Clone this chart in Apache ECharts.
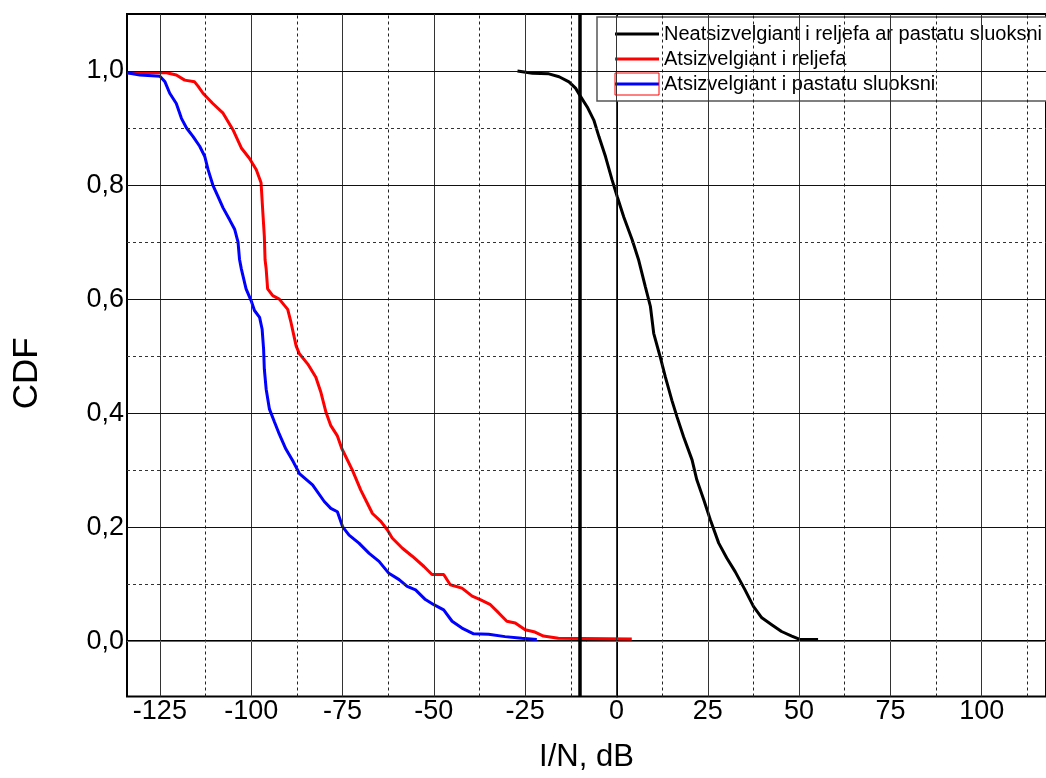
<!DOCTYPE html>
<html>
<head>
<meta charset="utf-8">
<script src="https://cdn.jsdelivr.net/npm/echarts@6/dist/echarts.min.js"></script>
<style>html,body{margin:0;padding:0;background:#fff}#c{width:1046px;height:778px}</style>
</head>
<body>
<div id="c"></div>
<script>
// ---- data ----
const seriesNames = ['Neatsizvelgiant i reljefa ar pastatu sluoksni', 'Atsizvelgiant i reljefa', 'Atsizvelgiant i pastatu sluoksni'];

const blackX = [-27.1, -23, -18.5, -15.7, -13, -11.2, -9.8, -8, -6.2, -4.8, -3, -1.2, 0.2, 2, 4.3, 6.1, 7.9, 9.3, 10.2, 12.0, 13.4, 15.2, 16.6, 18.4, 20.7, 22.0, 23.9, 25.7, 28, 30.2, 32.5, 35.2, 37.5, 39.8, 42.5, 45.2, 48, 50.2, 55.2];
const blackY = [1.0, 0.996, 0.995, 0.99, 0.981, 0.97, 0.955, 0.937, 0.914, 0.885, 0.85, 0.809, 0.78, 0.744, 0.704, 0.668, 0.622, 0.587, 0.54, 0.498, 0.463, 0.422, 0.393, 0.358, 0.318, 0.283, 0.248, 0.213, 0.172, 0.146, 0.122, 0.09, 0.061, 0.041, 0.029, 0.017, 0.009, 0.003, 0.003];

const redX = [-134, -123.2, -120.5, -118.2, -115.5, -114.5, -113.2, -110.5, -107.7, -105, -102.7, -100.5, -98.6, -97.3, -96.8, -96.4, -96.2, -95.9, -95.5, -94.1, -92.3, -90, -89.1, -87.7, -86.8, -84.5, -82.3, -80.9, -79.5, -78.2, -76.4, -75.2, -72.3, -70, -68.2, -66.8, -64.5, -62.7, -61.4, -58.6, -55.9, -52.7, -50.5, -47.3, -45.5, -42.3, -39.5, -37.3, -34.5, -32.3, -30, -27.7, -25, -22.3, -20, -15.9, 4.2];
const redY = [0.997, 0.997, 0.993, 0.984, 0.981, 0.973, 0.961, 0.943, 0.926, 0.897, 0.865, 0.847, 0.827, 0.804, 0.751, 0.71, 0.669, 0.653, 0.618, 0.606, 0.6, 0.582, 0.559, 0.518, 0.504, 0.486, 0.463, 0.436, 0.401, 0.378, 0.36, 0.338, 0.3, 0.265, 0.242, 0.224, 0.21, 0.195, 0.181, 0.163, 0.149, 0.131, 0.117, 0.117, 0.099, 0.093, 0.079, 0.073, 0.064, 0.05, 0.035, 0.032, 0.02, 0.016, 0.009, 0.005, 0.004];

const blueX = [-134, -130.5, -125, -123.6, -122.3, -120.5, -119.1, -117.7, -115.9, -114.1, -112.7, -111.8, -110.5, -109.1, -107.7, -105.9, -104.5, -103.6, -103.2, -102.7, -101.4, -100, -99.1, -97.7, -97, -96.6, -96.4, -95.9, -95, -93.6, -92.3, -90.5, -88.5, -86.8, -83.2, -80, -78.2, -76.4, -75, -73.2, -70.5, -67.7, -65, -62.3, -59.5, -57.3, -55, -52.3, -50, -47.3, -45, -42.3, -39.1, -35, -30.5, -25.9, -21.8];
const blueY = [0.997, 0.993, 0.991, 0.981, 0.961, 0.943, 0.917, 0.9, 0.885, 0.868, 0.85, 0.827, 0.8, 0.78, 0.76, 0.739, 0.722, 0.7, 0.67, 0.653, 0.618, 0.597, 0.58, 0.568, 0.547, 0.512, 0.477, 0.442, 0.407, 0.384, 0.363, 0.337, 0.315, 0.294, 0.274, 0.245, 0.233, 0.227, 0.201, 0.186, 0.172, 0.154, 0.14, 0.119, 0.108, 0.096, 0.09, 0.073, 0.064, 0.055, 0.035, 0.023, 0.013, 0.012, 0.008, 0.005, 0.003];

const xTickLabels = [-125, -100, -75, -50, -25, 0, 25, 50, 75, 100];
const xMinorGrid = [-112.5, -87.5, -62.5, -37.5, -12.5, 12.5, 37.5, 62.5, 87.5, 112.5];
const yTickLabels = [0, 0.2, 0.4, 0.6, 0.8, 1.0];
const yMinorGrid = [0.1, 0.3, 0.5, 0.7, 0.9];
const thresholdX = -10;

// ---- build ----
const zip = (xs, ys) => xs.map((x, i) => [x, ys[i]]);
const FONT = 'Liberation Sans, Arial, sans-serif';

const gridLines = [];
xTickLabels.forEach(v => gridLines.push({xAxis: v, lineStyle: {type: 'solid', color: '#333', width: 1}}));
xMinorGrid.forEach(v => gridLines.push({xAxis: v, lineStyle: {type: [3, 3], color: '#222', width: 1}}));
yTickLabels.forEach(v => gridLines.push({yAxis: v, lineStyle: {type: 'solid', color: v === 0 ? '#666' : '#111', width: 1}}));
yMinorGrid.forEach(v => gridLines.push({yAxis: v, lineStyle: {type: [3, 3], color: '#333', width: 1}}));

const chart = echarts.init(document.getElementById('c'), null, {renderer: 'canvas'});
chart.setOption({
  animation: false,
  backgroundColor: '#fff',
  textStyle: {fontFamily: FONT},
  grid: {left: 127, top: 14, right: -3, bottom: 81.5, show: true, borderColor: '#000', borderWidth: 2, containLabel: false},
  xAxis: {
    type: 'value', min: -134, max: 117.6,
    name: 'I/N, dB', nameLocation: 'middle', nameGap: 45,
    nameTextStyle: {fontSize: 31, color: '#000', fontFamily: FONT},
    axisLine: {show: true, lineStyle: {color: '#000', width: 2}},
    axisTick: {show: false},
    splitLine: {show: false},
    axisLabel: {customValues: xTickLabels, fontSize: 27, color: '#000', margin: 2, fontFamily: FONT}
  },
  yAxis: {
    type: 'value', min: -0.097, max: 1.1,
    name: 'CDF', nameLocation: 'middle', nameGap: 82, nameRotate: 90,
    nameTextStyle: {fontSize: 35, color: '#000', fontFamily: FONT, padding: [0, 36, 0, 0]},
    axisLine: {show: true, lineStyle: {color: '#000', width: 2}},
    axisTick: {show: false},
    splitLine: {show: false},
    axisLabel: {customValues: yTickLabels, fontSize: 27, color: '#000', margin: 3, fontFamily: FONT,
      formatter: v => v.toFixed(1).replace('.', ',')}
  },
  legend: {
    data: seriesNames,
    orient: 'vertical', left: 597, top: 17,
    padding: [7, 40, 7, 18], itemGap: 5, itemWidth: 44, itemHeight: 20, itemTextGap: 5,
    backgroundColor: '#fff', borderColor: '#555', borderWidth: 1.5, borderRadius: 0,
    textStyle: {fontSize: 20, color: '#000', fontFamily: FONT},
    icon: 'path://M0,8.5 L44,8.5 L44,11.5 L0,11.5 Z'
  },
  graphic: [{
    type: 'rect', z: 100,
    shape: {x: 615, y: 73, width: 44, height: 22},
    style: {fill: 'none', stroke: '#f00', lineWidth: 1}
  }],
  series: [
    {type: 'line', name: '_grid', data: [], silent: true, z: 1,
      markLine: {silent: true, symbol: ['none', 'none'], label: {show: false}, animation: false, data: gridLines}},
    {type: 'line', name: seriesNames[0], data: zip(blackX, blackY), showSymbol: false, symbol: 'none', z: 3,
      lineStyle: {color: '#000', width: 3}, itemStyle: {color: '#000'}},
    {type: 'line', name: seriesNames[1], data: zip(redX, redY), showSymbol: false, symbol: 'none', z: 3,
      lineStyle: {color: '#ff0000', width: 3}, itemStyle: {color: '#ff0000'}},
    {type: 'line', name: seriesNames[2], data: zip(blueX, blueY), showSymbol: false, symbol: 'none', z: 3,
      lineStyle: {color: '#0000ff', width: 3}, itemStyle: {color: '#0000ff'}},
    {type: 'line', name: '_thr', data: [], silent: true, z: 5,
      markLine: {silent: true, symbol: ['none', 'none'], label: {show: false}, animation: false,
        data: [{xAxis: thresholdX, lineStyle: {type: 'solid', color: '#000', width: 3.5}}]}}
  ]
});
</script>
</body>
</html>
